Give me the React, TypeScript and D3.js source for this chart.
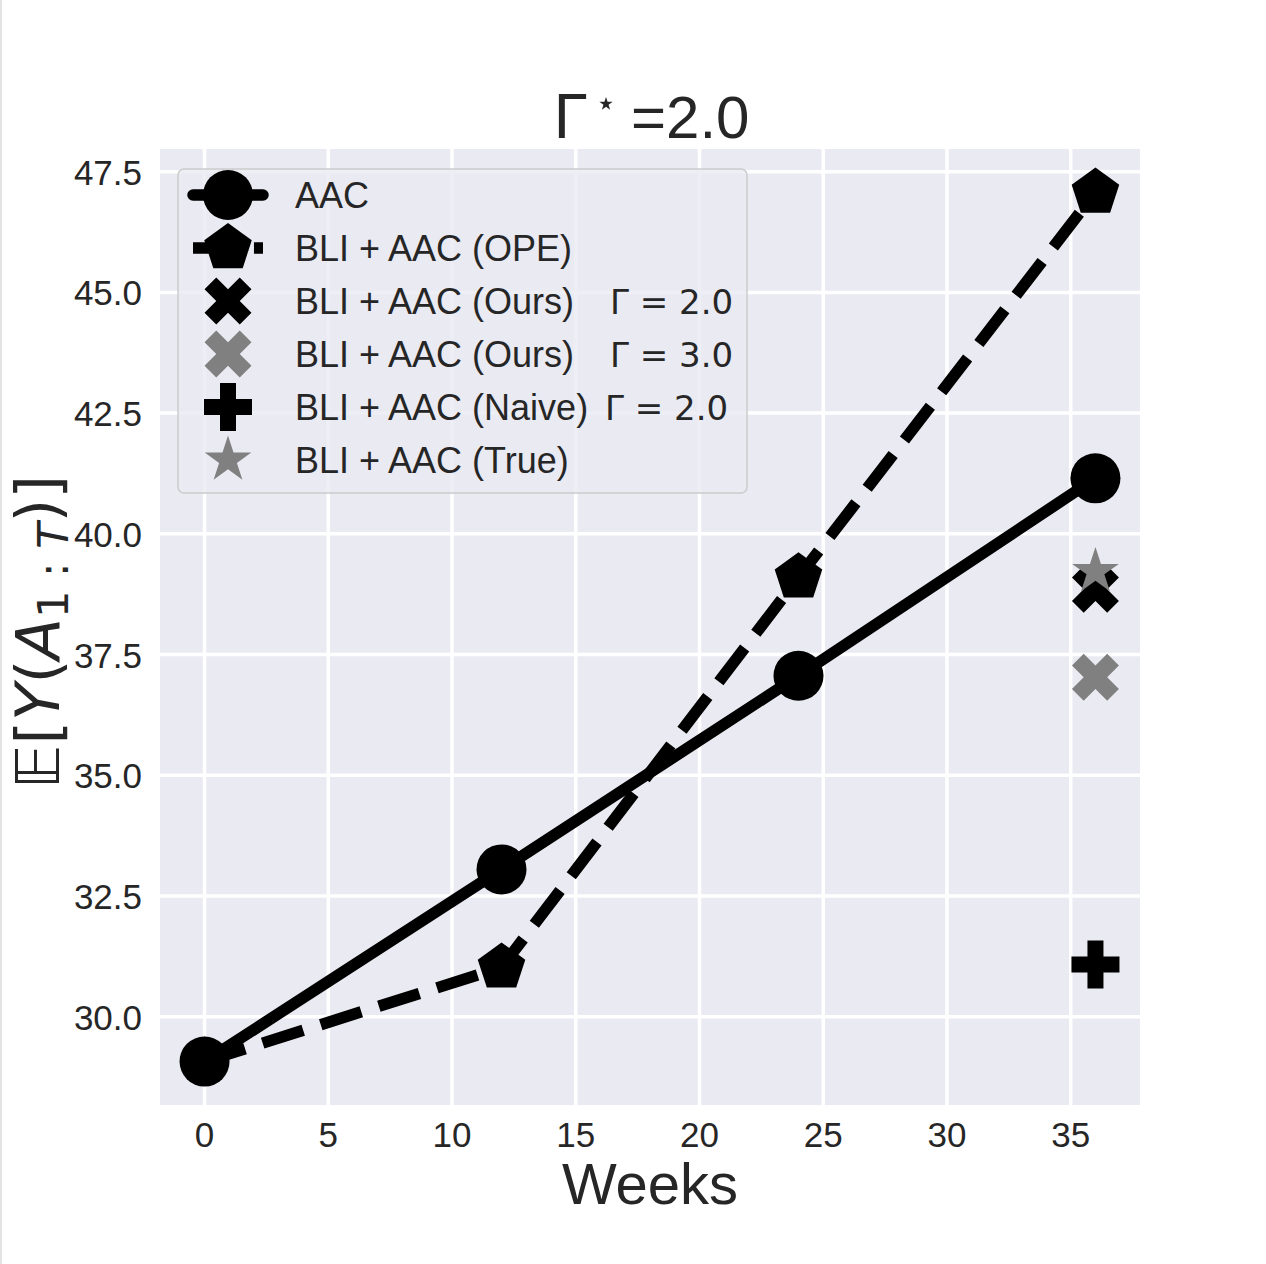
import * as d3 from "d3";

// data
const weeks = [0, 12, 24, 36];
const aacValues = [29.07, 33.05, 37.06, 41.15];
const opeValues = [29.07, 31.02, 39.1, 47.07];
const finalWeek = 36;
const oursG2Value = 38.85;
const oursG3Value = 37.03;
const naiveG2Value = 31.08;
const trueValue = 39.22;

const xTicks = [0, 5, 10, 15, 20, 25, 30, 35];
const yTicks = [30, 32.5, 35, 37.5, 40, 42.5, 45, 47.5];

const legendNames = [
  "AAC",
  "BLI + AAC (OPE)",
  "BLI + AAC (Ours)",
  "BLI + AAC (Ours)",
  "BLI + AAC (Naive)",
  "BLI + AAC (True)",
];
const legendMath = ["", "", "Γ = 2.0", "Γ = 3.0", "Γ = 2.0", ""];

const WIDTH = 1266;
const HEIGHT = 1264;
const margin = { top: 149, right: 126, bottom: 159, left: 160 };
const innerW = WIDTH - margin.left - margin.right;
const innerH = HEIGHT - margin.top - margin.bottom;

const TEXT = "#262626";
const GRAY = "#808080";
const BG = "#EAEAF2";
const SANS = "'Liberation Sans', Arial, sans-serif";
const MATH = "'DejaVu Sans', sans-serif";
const LW = 11.5;
const DASH = `${3.7 * LW} ${1.6 * LW}`;

// matplotlib-style 5% padding
const pad = (lo: number, hi: number) => {
  const m = (hi - lo) * 0.05;
  return [lo - m, hi + m];
};
const allY = [...aacValues, ...opeValues, oursG2Value, oursG3Value, naiveG2Value, trueValue];

const x = d3
  .scaleLinear()
  .domain(pad(d3.min(weeks)!, d3.max(weeks)!))
  .range([0, innerW]);
const y = d3
  .scaleLinear()
  .domain(pad(d3.min(allY)!, d3.max(allY)!))
  .range([innerH, 0]);

const pentagon = (r: number) => {
  const pts: [number, number][] = d3.range(5).map((i) => {
    const a = -Math.PI / 2 + (i * 2 * Math.PI) / 5;
    return [r * Math.cos(a), r * Math.sin(a)];
  });
  return d3.line()(pts) + "Z";
};
const starArea = (r: number) => (r * r) / 0.8908130915;
const plusPath = d3.symbol(d3.symbolCross, 20 * 8 * 8)()!;
const xPath = d3.symbol(d3.symbolCross, 20 * 8.3 * 8.3)()!;
const starPath = d3.symbol(d3.symbolStar, starArea(24.5))()!;
const titleStar = d3.symbol(d3.symbolStar, starArea(7))()!;
const pentPath = pentagon(25);

type MarkerKind = "circle" | "pentagon" | "x" | "plus" | "star";

const Marker = ({ kind, cx, cy, fill }: { kind: MarkerKind; cx: number; cy: number; fill: string }) => {
  if (kind === "circle") return <circle cx={cx} cy={cy} r={25} fill={fill} />;
  const d =
    kind === "pentagon" ? pentPath : kind === "x" ? xPath : kind === "plus" ? plusPath : starPath;
  const rot = kind === "x" ? " rotate(45)" : "";
  return <path d={d} fill={fill} transform={`translate(${cx},${cy})${rot}`} />;
};

const lineGen = d3
  .line<number>()
  .x((_, i) => x(weeks[i]))
  .y((d) => y(d));

const legendKinds: MarkerKind[] = ["circle", "pentagon", "x", "x", "plus", "star"];
const legendColors = ["#000", "#000", "#000", GRAY, "#000", GRAY];
const legendMathX = [0, 0, 610, 610, 605, 0];

export default function App() {
  const rowY = (i: number) => 195 + i * 53;
  return (
    <svg
      width={WIDTH}
      height={HEIGHT}
      style={{ position: "absolute", left: 0, top: 0, background: "#fff" }}
    >
      <rect x={0} y={0} width={2} height={HEIGHT} fill="#e3e3e3" />

      {/* title */}
      <text x={553} y={138} fill={TEXT} fontSize={60} fontFamily={MATH}>
        Γ
      </text>
      <path d={titleStar} fill={TEXT} transform="translate(606,104)" />
      <text x={631} y={138} fill={TEXT} fontSize={60} fontFamily={SANS}>
        =2.0
      </text>

      <g transform={`translate(${margin.left},${margin.top})`}>
        <rect width={innerW} height={innerH} fill={BG} />
        {xTicks.map((t) => (
          <line key={"gx" + t} x1={x(t)} x2={x(t)} y1={0} y2={innerH} stroke="#fff" strokeWidth={3.5} />
        ))}
        {yTicks.map((t) => (
          <line key={"gy" + t} x1={0} x2={innerW} y1={y(t)} y2={y(t)} stroke="#fff" strokeWidth={3.5} />
        ))}

        {/* AAC */}
        <path
          d={lineGen(aacValues)!}
          fill="none"
          stroke="#000"
          strokeWidth={LW}
          strokeLinecap="round"
          strokeLinejoin="round"
        />
        {aacValues.map((v, i) => (
          <Marker key={"a" + i} kind="circle" cx={x(weeks[i])} cy={y(v)} fill="#000" />
        ))}

        {/* OPE */}
        <path d={lineGen(opeValues)!} fill="none" stroke="#000" strokeWidth={LW} strokeDasharray={DASH} />
        {opeValues.map((v, i) => (
          <Marker key={"o" + i} kind="pentagon" cx={x(weeks[i])} cy={y(v)} fill="#000" />
        ))}

        <Marker kind="x" cx={x(finalWeek)} cy={y(oursG2Value)} fill="#000" />
        <Marker kind="x" cx={x(finalWeek)} cy={y(oursG3Value)} fill={GRAY} />
        <Marker kind="plus" cx={x(finalWeek)} cy={y(naiveG2Value)} fill="#000" />
        <Marker kind="star" cx={x(finalWeek)} cy={y(trueValue)} fill={GRAY} />

        {/* tick labels */}
        {xTicks.map((t) => (
          <text key={"tx" + t} x={x(t)} y={innerH + 42} textAnchor="middle" fontFamily={SANS} fontSize={35} fill={TEXT}>
            {t}
          </text>
        ))}
        {yTicks.map((t) => (
          <text key={"ty" + t} x={-18} y={y(t) + 13} textAnchor="end" fontFamily={SANS} fontSize={35} fill={TEXT}>
            {t.toFixed(1)}
          </text>
        ))}
      </g>

      {/* legend */}
      <rect x={178} y={169} width={569} height={324} rx={6} fill={BG} fillOpacity={0.8} stroke="#cccccc" strokeWidth={1.5} />
      {legendNames.map((name, i) => (
        <g key={"l" + i}>
          {i === 0 && (
            <line x1={193} x2={263} y1={rowY(i)} y2={rowY(i)} stroke="#000" strokeWidth={LW} strokeLinecap="round" />
          )}
          {i === 1 && (
            <line x1={193} x2={263} y1={rowY(i)} y2={rowY(i)} stroke="#000" strokeWidth={LW} strokeDasharray={DASH} />
          )}
          <Marker kind={legendKinds[i]} cx={228} cy={rowY(i)} fill={legendColors[i]} />
          <text x={295} y={rowY(i) + 13} fontFamily={SANS} fontSize={36} fill={TEXT}>
            {name}
          </text>
          {legendMath[i] && (
            <text x={legendMathX[i]} y={rowY(i) + 13} fontFamily={MATH} fontSize={34} fill={TEXT}>
              {legendMath[i]}
            </text>
          )}
        </g>
      ))}

      {/* axis labels */}
      <text x={650} y={1204} textAnchor="middle" fontFamily={SANS} fontSize={58} fill={TEXT}>
        Weeks
      </text>
      <text transform="translate(59,632) rotate(-90)" textAnchor="middle" fontFamily={MATH} fontSize={61} fill={TEXT}>
        <tspan>𝔼</tspan>
        <tspan>[</tspan>
        <tspan fontStyle="italic">Y</tspan>
        <tspan>(</tspan>
        <tspan fontStyle="italic">A</tspan>
        <tspan fontSize={43} dy={9}>1 :</tspan>
        <tspan fontSize={43} fontStyle="italic"> T</tspan>
        <tspan dy={-9}>)]</tspan>
      </text>
    </svg>
  );
}
